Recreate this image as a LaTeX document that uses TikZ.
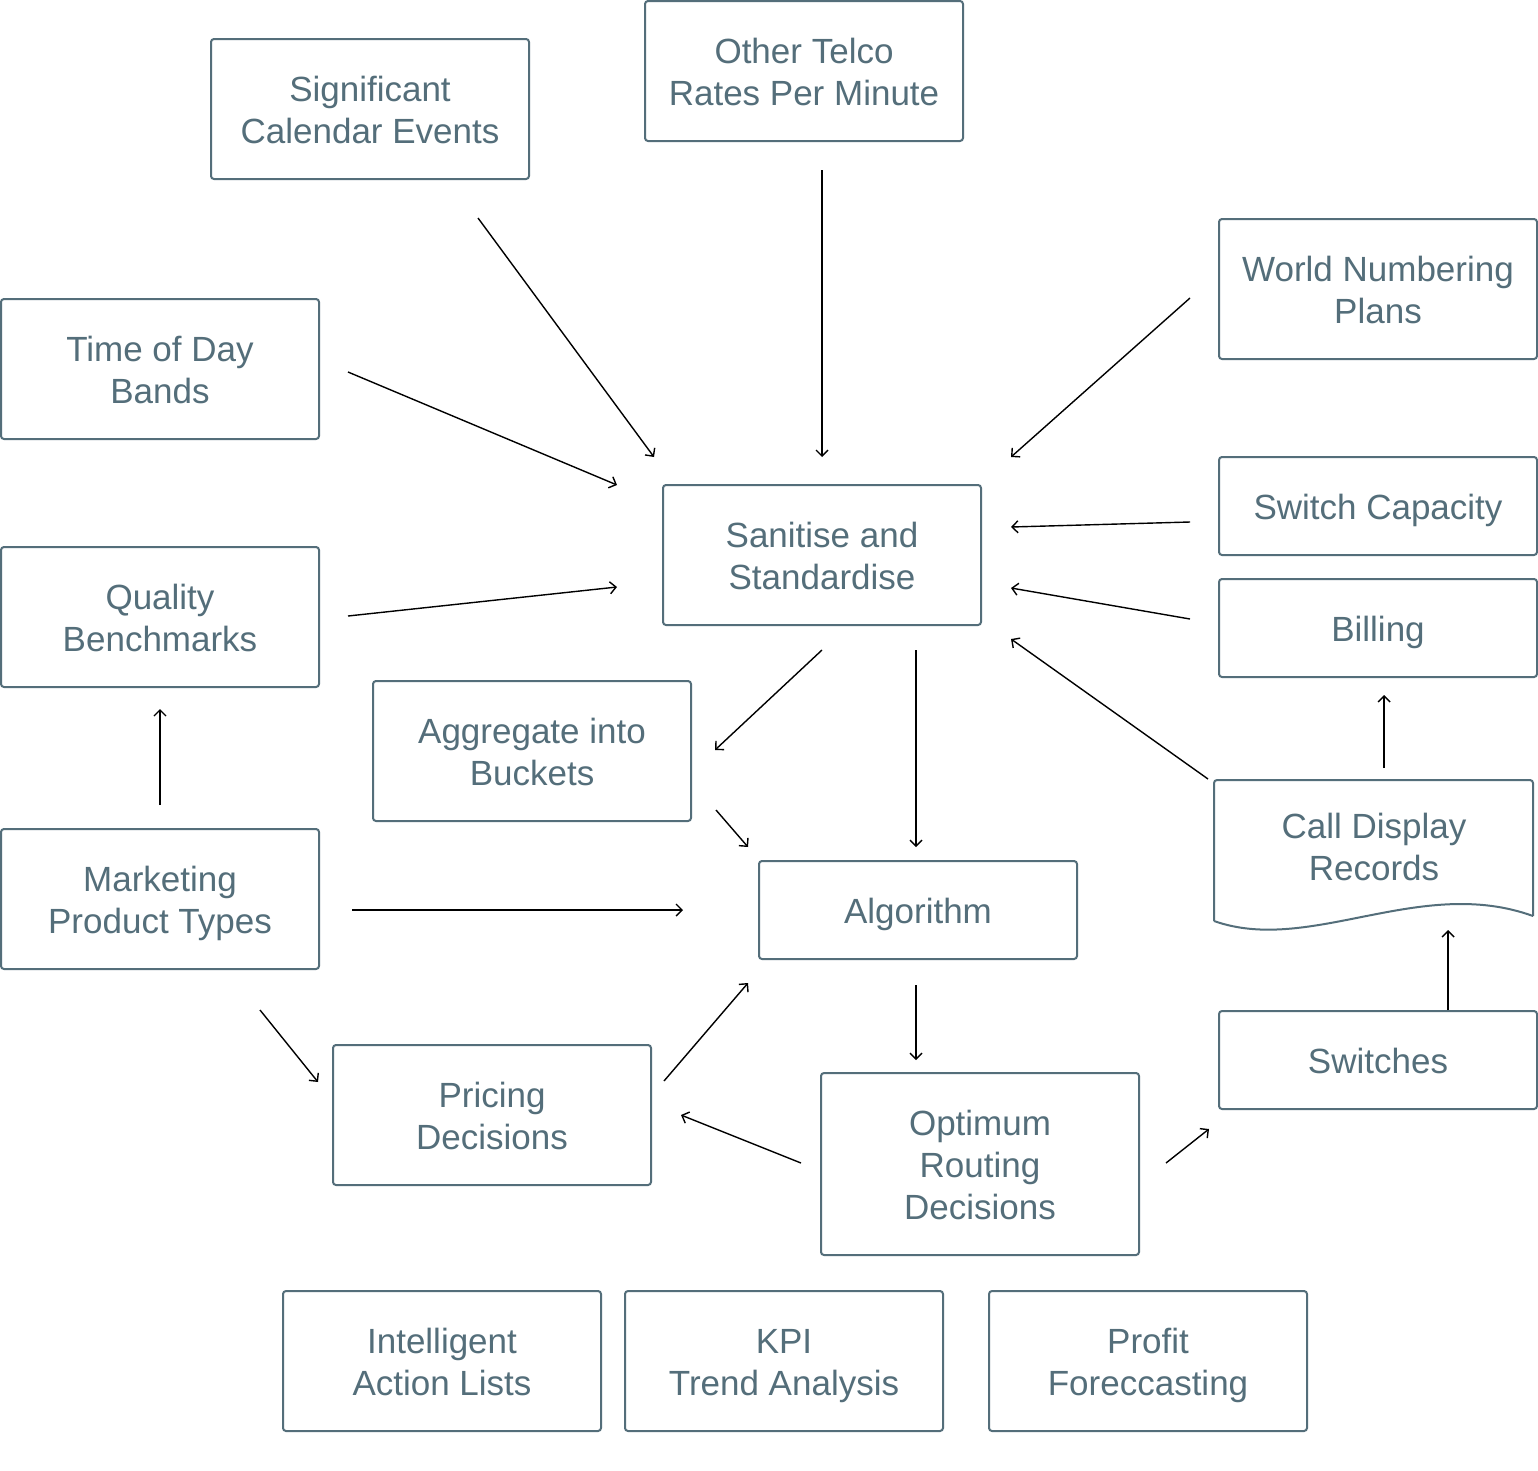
\documentclass[tikz,border=0pt]{standalone}
\usepackage{fontspec}
\setmainfont{Liberation Sans}
\usetikzlibrary{arrows.meta}
\definecolor{boxc}{HTML}{546E7A}
\newcommand\Lstrut{\rule[-8pt]{0pt}{42pt}}
\newcommand\nl{\\\Lstrut}
\tikzset{
  plain/.style={text=boxc, align=center, inner sep=0pt,
    font=\fontsize{35}{42}\selectfont},
  box/.style={plain, draw=boxc, line width=2pt, rounded corners=3pt,
    minimum width=318pt, minimum height=140pt},
  onebox/.style={box, minimum height=98pt},
  threebox/.style={box, minimum height=182pt},
  arr/.style={draw=black, line width=1.4pt, -{Straight Barb[length=6pt,width=12pt,line width=1.4pt]}}
}
\begin{document}
\begin{tikzpicture}[x=1pt,y=-1pt]
\useasboundingbox (0,0) rectangle (1538,1470);
\fill[white] (0,0) rectangle (1538,1470);
% boxes
\node[box] (sig) at (370,109) {\Lstrut Significant\nl Calendar Events};
\node[box] (tel) at (804,71) {\Lstrut Other Telco\nl Rates Per Minute};
\node[box] (wnp) at (1378,289) {\Lstrut World Numbering\nl Plans};
\node[box] (tod) at (160,369) {\Lstrut Time of Day\nl Bands};
\node[box] (san) at (822,555) {\Lstrut Sanitise and\nl Standardise};
\node[onebox] (cap) at (1378,506) {\Lstrut Switch Capacity};
\node[onebox] (bil) at (1378,628) {\Lstrut Billing};
\node[box] (qua) at (160,617) {\Lstrut Quality\nl Benchmarks};
\node[box] (agg) at (532,751) {\Lstrut Aggregate into\nl Buckets};
\node[box] (mkt) at (160,899) {\Lstrut Marketing\nl Product Types};
\node[onebox] (alg) at (918,910) {\Lstrut Algorithm};
\node[onebox] (swi) at (1378,1060) {\Lstrut Switches};
\node[box] (pri) at (492,1115) {\Lstrut Pricing\nl Decisions};
\node[threebox] (opt) at (980,1164) {\Lstrut Optimum\nl Routing\nl Decisions};
\node[box] (ial) at (442,1361) {\Lstrut Intelligent\nl Action Lists};
\node[box] (kpi) at (784,1361) {\Lstrut KPI\nl Trend Analysis};
\node[box] (pro) at (1148,1361) {\Lstrut Profit\nl Foreccasting};
% call display records (document shape)
\draw[boxc, line width=2pt, rounded corners=3pt] (1214,921) -- (1214,780) -- (1533,780) -- (1533,916);
\draw[boxc, line width=2pt] (1214,921) .. controls (1310,955) and (1420,875) .. (1533,916);
\node[plain] (cdr) at (1374,846) {\Lstrut Call Display\nl Records};
% arrow end points
\coordinate (a1s) at (478,218);  \coordinate (a1e) at (654,457);
\coordinate (a2s) at (348,372);  \coordinate (a2e) at (617,485);
\coordinate (a3s) at (822,170);  \coordinate (a3e) at (822,457);
\coordinate (a4s) at (1190,298); \coordinate (a4e) at (1011,457);
\coordinate (a5s) at (1190,522); \coordinate (a5e) at (1011,527);
\coordinate (a6s) at (1190,619); \coordinate (a6e) at (1011,588);
\coordinate (a7s) at (1208,779); \coordinate (a7e) at (1011,639);
\coordinate (a8s) at (348,616);  \coordinate (a8e) at (617,587);
\coordinate (a9s) at (822,650);  \coordinate (a9e) at (715,750);
\coordinate (a10s) at (916,650); \coordinate (a10e) at (916,847);
\coordinate (a11s) at (716,810); \coordinate (a11e) at (748,847);
\coordinate (a12s) at (352,910); \coordinate (a12e) at (683,910);
\coordinate (a13s) at (160,805); \coordinate (a13e) at (160,709);
\coordinate (a14s) at (260,1010);\coordinate (a14e) at (318,1082);
\coordinate (a15s) at (664,1081);\coordinate (a15e) at (748,983);
\coordinate (a16s) at (916,985); \coordinate (a16e) at (916,1060);
\coordinate (a17s) at (801,1163);\coordinate (a17e) at (681,1115);
\coordinate (a18s) at (1166,1163);\coordinate (a18e) at (1209,1129);
\coordinate (a19s) at (1448,1010);\coordinate (a19e) at (1448,930);
\coordinate (a20s) at (1384,768);\coordinate (a20e) at (1384,695);
\foreach \i in {1,...,20}{\draw[arr] (a\i s) -- (a\i e);}
\end{tikzpicture}
\end{document}
